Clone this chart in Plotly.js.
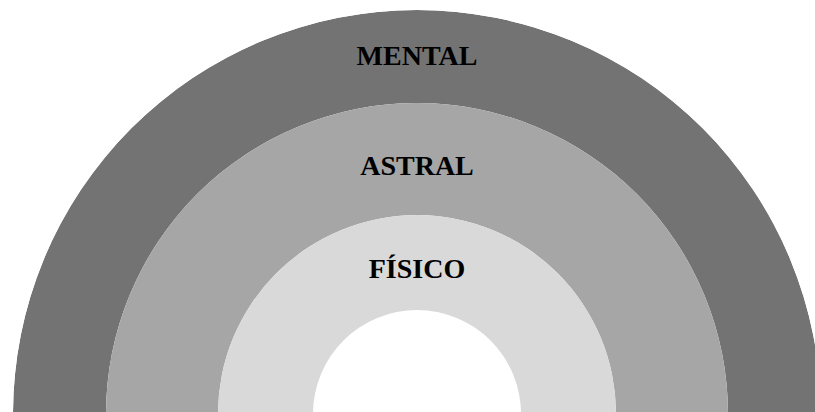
<!DOCTYPE html>
<html>
<head>
<meta charset="utf-8">
<script src="https://cdn.plot.ly/plotly-3.0.1.min.js"></script>
<style>
html,body{margin:0;padding:0;width:815px;height:412px;overflow:hidden;background:#fff;}
#chart{width:821px;height:414px;}
</style>
</head>
<body>
<div id="chart"></div>
<script>
// Layers from inside to outside
var layers = ["FÍSICO", "ASTRAL", "MENTAL"];
var innerRadius = [104, 199, 311];
var outerRadius = [199, 311, 404];
var layerColors = ["#d9d9d9", "#a6a6a6", "#737373"];
var labelRadius = [143, 246, 356];

var traces = [];
for (var i = layers.length - 1; i >= 0; i--) {
  traces.push({
    type: "barpolar",
    theta: [90],
    width: [180],
    base: [innerRadius[i]],
    r: [outerRadius[i] - innerRadius[i]],
    marker: {color: layerColors[i], line: {width: 0}},
    hoverinfo: "skip",
    showlegend: false
  });
}
traces.push({
  type: "scatterpolar",
  mode: "text",
  theta: layers.map(function(){return 90;}),
  r: labelRadius,
  text: layers.map(function(s){return "<b>" + s + "</b>";}),
  textposition: "middle center",
  textfont: {family: "Liberation Serif, Times New Roman, serif", size: 28, color: "#000"},
  hoverinfo: "skip",
  showlegend: false
});

var layout = {
  width: 821,
  height: 414,
  margin: {l: 13, r: 0, t: 10, b: 0, pad: 0},
  paper_bgcolor: "#fff",
  showlegend: false,
  polar: {
    domain: {x: [0, 1], y: [0, 1]},
    sector: [0, 180],
    bgcolor: "#fff",
    barmode: "overlay",
    radialaxis: {visible: false, range: [0, 404], showgrid: false, showline: false, showticklabels: false, ticks: ""},
    angularaxis: {visible: false, showgrid: false, showline: false, showticklabels: false, ticks: ""}
  }
};

Plotly.newPlot("chart", traces, layout, {staticPlot: true, displayModeBar: false});
</script>
</body>
</html>
